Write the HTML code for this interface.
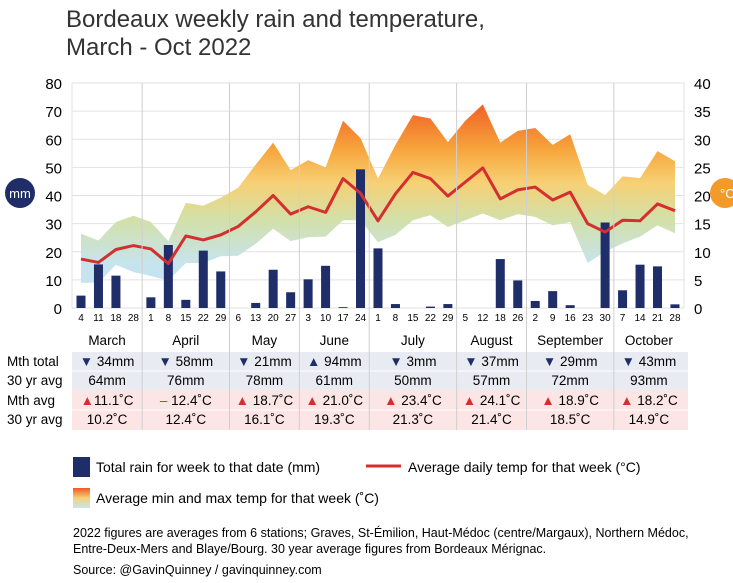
<!DOCTYPE html>
<html><head><meta charset="utf-8"><style>
body{margin:0;width:733px;height:583px;background:#fff;overflow:hidden;position:relative;font-family:"Liberation Sans Narrow","Liberation Sans",sans-serif;color:#222}
.t{position:absolute;white-space:nowrap}
</style></head><body>
<div class="t" style="left:66px;top:6px;font-family:'Liberation Sans',sans-serif;font-size:24px;color:#333;line-height:28px">Bordeaux weekly rain and temperature,<br>March - Oct 2022</div>
<svg id="chart" width="733" height="583" style="position:absolute;left:0;top:0">
<defs>
<linearGradient id="band" gradientUnits="userSpaceOnUse" x1="0" y1="100" x2="0" y2="265">
<stop offset="0" stop-color="#ee5a24"/><stop offset="0.3" stop-color="#f7a53c"/><stop offset="0.5" stop-color="#f7d074"/><stop offset="0.72" stop-color="#d3e0a8"/><stop offset="1" stop-color="#c6e4ef"/>
</linearGradient>
<linearGradient id="lg" x1="0" y1="0" x2="0" y2="1"><stop offset="0" stop-color="#ee5a24"/><stop offset="0.5" stop-color="#f7d074"/><stop offset="1" stop-color="#c8e6f0"/></linearGradient>
</defs>
<g id="grid"></g><g id="bandg"></g><g id="bars"></g><g id="line"></g><g id="labels"></g>
<rect x="72" y="352" width="616" height="38" fill="#e9ebf2"/>
<rect x="72" y="390" width="616" height="40" fill="#fbe5e5"/>
<line x1="72" y1="371" x2="688" y2="371" stroke="#fff"/>
<line x1="72" y1="410" x2="688" y2="410" stroke="#fff"/>
<g id="vsep"></g><g id="table"></g>
<circle cx="20" cy="193" r="15" fill="#1f2d68"/>
<text x="20" y="198" font-size="13" fill="#fff" text-anchor="middle" font-family="Liberation Sans">mm</text>
<circle cx="725" cy="193" r="15" fill="#f39a2b"/>
<text x="720" y="198" font-size="13" fill="#fff" font-family="Liberation Sans">°C</text>
<g>
<rect x="73" y="457" width="17" height="20" fill="#1f2d68"/>
<text x="96" y="472" font-size="14">Total rain for week to that date (mm)</text>
<line x1="366" y1="466" x2="401" y2="466" stroke="#d42f2f" stroke-width="3"/>
<text x="408" y="472" font-size="14">Average daily temp for that week (°C)</text>
<rect x="73" y="488" width="17" height="20" fill="url(#lg)"/>
<text x="96" y="503" font-size="14">Average min and max temp for that week (˚C)</text>
</g>
<text x="73" y="537" font-size="12.5">2022 figures are averages from 6 stations; Graves, St-Émilion, Haut-Médoc (centre/Margaux), Northern Médoc,</text>
<text x="73" y="553" font-size="12.5">Entre-Deux-Mers and Blaye/Bourg. 30 year average figures from Bordeaux Mérignac.</text>
<text x="73" y="574" font-size="12.5">Source: @GavinQuinney / gavinquinney.com</text>
</svg>
<script>
const weeks=["4","11","18","28","1","8","15","22","29","6","13","20","27","3","10","17","24","1","8","15","22","29","5","12","18","26","2","9","16","23","30","7","14","21","28"];
const rain=[4.4,15.5,11.5,0,3.8,22.4,2.9,20.4,13,0,1.8,13.6,5.6,10.2,15,0.3,49.3,21.2,1.4,0,0.5,1.4,0,0,17.4,9.8,2.5,6,1,0,30.4,6.3,15.4,14.8,1.3];
const tAvg=[8.7,8.1,10.4,11.1,10.5,7.9,12.8,12.1,13,14.5,17.1,20,16.7,18,17,23,20.4,15.5,20.3,24.1,23,19.9,22.4,24.9,19.4,21,21.5,19.2,20.6,15,13.5,15.6,15.5,18.5,17.3];
const tMax=[13.2,12,15.3,16.4,15.3,11.9,18.7,18.2,19.6,21.4,25.5,29.4,24.5,26.3,25,33.3,30.2,23,29,34.3,33.7,29.5,33.3,36.2,29.4,31.5,32,29,30.9,21.9,20.1,23.4,23.1,27.9,26.1];
const tMin=[4.5,4.5,7.7,6.4,5.7,4.9,8,8,9.2,9.3,11.4,14.1,11.9,12.6,12.7,15.6,15.6,11.7,13,15.6,16.5,14.4,15.6,16.8,15.6,16.7,16.2,14.7,15.3,8,10,11.5,12.7,14.7,13.3];
const mmTicks=[0,10,20,30,40,50,60,70,80];
const cTicks=[0,5,10,15,20,25,30,35,40];
const months=["March","April","May","June","July","August","September","October"];
const monthStart=[0,4,9,13,17,22,26,31];
const mthTotal=["▼ 34mm","▼ 58mm","▼ 21mm","▲ 94mm","▼  3mm","▼ 37mm","▼ 29mm","▼ 43mm"];
const rainAvg=["64mm","76mm","78mm","61mm","50mm","57mm","72mm","93mm"];
const mthAvg=["▲11.1˚C","– 12.4˚C","▲ 18.7˚C","▲ 21.0˚C","▲ 23.4˚C","▲ 24.1˚C","▲ 18.9˚C","▲ 18.2˚C"];
const tempAvg=["10.2˚C","12.4˚C","16.1˚C","19.3˚C","21.3˚C","21.4˚C","18.5˚C","14.9˚C"];

const NS="http://www.w3.org/2000/svg";
const x=i=>81+i*17.47;
const yMM=v=>308-v*2.8125;
const yC=v=>yMM(v*2);
function mk(tag,attrs,parent,txt){const e=document.createElementNS(NS,tag);for(const k in attrs)e.setAttribute(k,attrs[k]);if(txt!=null)e.textContent=txt;document.getElementById(parent).appendChild(e);return e;}
const sepX=k=>k==0?72:(x(monthStart[k])+x(monthStart[k]-1))/2;
mmTicks.forEach((v,i)=>{
 const l=mk('line',{x1:72,x2:684,y1:yMM(v),y2:yMM(v),stroke:'#e2e2e2'},'grid');
 
 
 const t=mk('text',{x:62,y:yMM(v)+6,'font-size':15,'text-anchor':'end','font-family':'Liberation Sans'},'labels',v);
 
 
 const r=mk('text',{x:694,y:yC(cTicks[i])+6,'font-size':15,'font-family':'Liberation Sans'},'labels',cTicks[i]);
 
 
});
mk('line',{x1:72,x2:72,y1:83,y2:308,stroke:'#e2e2e2'},'grid');
mk('line',{x1:684,x2:684,y1:83,y2:308,stroke:'#e2e2e2'},'grid');
for(let k=1;k<months.length;k++){
 const l=mk('line',{x1:sepX(k),x2:sepX(k),y1:83,y2:430,stroke:'#cfcfcf'},'vsep');
 
 
}
let d='M'+tMax.map((v,i)=>x(i)+','+yC(v)).join('L');
for(let i=tMin.length-1;i>=0;i--)d+='L'+x(i)+','+yC(tMin[i]);
const band=mk('path',{d:d+'Z',fill:'url(#band)'},'bandg');


rain.forEach((v,i)=>{
 const b=mk('rect',{x:x(i)-4.5,y:yMM(v),width:9,height:308-yMM(v),fill:'#1f2d68'},'bars');
 
 
});
const ln=mk('polyline',{points:tAvg.map((v,i)=>x(i)+','+yC(v)).join(' '),fill:'none',stroke:'#d42f2f','stroke-width':3,'stroke-linejoin':'round'},'line');


weeks.forEach((w,i)=>{
 const t=mk('text',{x:x(i),y:321,'font-size':10,'text-anchor':'middle','font-family':'Liberation Sans'},'labels',w);
 
 
});
mk('text',{x:7,y:366,'font-size':13.5},'table','Mth total');
mk('text',{x:7,y:385,'font-size':13.5},'table','30 yr avg');
mk('text',{x:7,y:405,'font-size':13.5},'table','Mth avg');
mk('text',{x:7,y:424,'font-size':13.5},'table','30 yr avg');
months.forEach((m,k)=>{
 const cx=(sepX(k)+(k<7?sepX(k+1):684))/2;
 const h=mk('text',{x:cx,y:345,'font-size':13.5,'text-anchor':'middle'},'table',m);
 
 
 const a=mk('text',{x:cx,y:366,'font-size':13.5,'text-anchor':'middle'},'table');
 a.innerHTML='<tspan fill="#1f2d68">'+mthTotal[k].slice(0,1)+'</tspan>'+mthTotal[k].slice(1);
 
 
 const b=mk('text',{x:cx,y:385,'font-size':13.5,'text-anchor':'middle'},'table',rainAvg[k]);
 
 
 const c=mk('text',{x:cx,y:405,'font-size':13.5,'text-anchor':'middle'},'table');
 c.innerHTML='<tspan fill="#d42f2f">'+mthAvg[k].slice(0,1)+'</tspan>'+mthAvg[k].slice(1);
 
 
 const e=mk('text',{x:cx,y:424,'font-size':13.5,'text-anchor':'middle'},'table',tempAvg[k]);
 
 
});
</script>
</body></html>
